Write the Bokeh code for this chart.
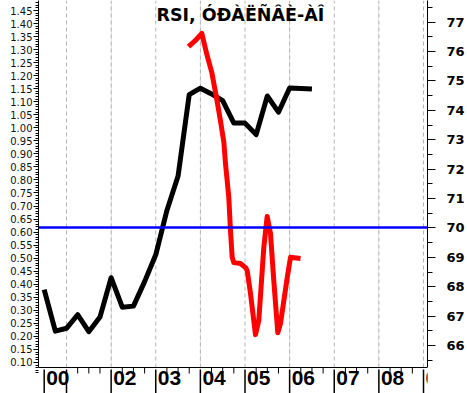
from bokeh.plotting import figure
from bokeh.models import Range1d, LinearAxis, FixedTicker, PrintfTickFormatter
from bokeh.embed import file_html
from bokeh.resources import INLINE
from bokeh.core.properties import value

# ---------------- data ----------------
title_text = "RSI, ÓÐÀËÑÂÈ-ÀÎ"

# black series (left axis), quarterly
black_t = [2000.50, 2000.75, 2001.00, 2001.25, 2001.50, 2001.75, 2002.00, 2002.25,
           2002.50, 2002.75, 2003.00, 2003.25, 2003.50, 2003.75, 2004.00, 2004.25,
           2004.50, 2004.75, 2005.00, 2005.25, 2005.50, 2005.75, 2006.00, 2006.25,
           2006.50]
black_v = [0.379, 0.220, 0.231, 0.283, 0.218, 0.274, 0.425, 0.312,
           0.316, 0.410, 0.513, 0.683, 0.815, 1.127, 1.152, 1.130,
           1.104, 1.018, 1.018, 0.974, 1.122, 1.060, 1.153, 1.151,
           1.149]

# red series (right axis, RSI)
red_t = [2003.734, 2003.884, 2004.032, 2004.144, 2004.256, 2004.368, 2004.444,
         2004.527, 2004.563, 2004.637, 2004.675, 2004.713, 2004.749, 2004.899,
         2005.011, 2005.049, 2005.123, 2005.235, 2005.309, 2005.421, 2005.497,
         2005.571, 2005.645, 2005.735, 2005.796, 2005.946, 2006.020, 2006.244]
red_r = [76.17, 76.37, 76.62, 75.91, 75.29, 74.38, 73.70,
         72.91, 72.19, 71.04, 69.91, 69.00, 68.82, 68.79,
         68.65, 68.55, 67.77, 66.37, 66.85, 69.33, 70.39,
         69.81, 68.21, 66.43, 66.75, 68.31, 69.00, 68.96]

level_r = [70]   # blue reference level

left_ticks = [round(0.10 + 0.05 * i, 2) for i in range(28)]
left_minor = [round(0.06 + 0.01 * i, 2) for i in range(145)]
right_ticks = [66, 67, 68, 69, 70, 71, 72, 73, 74, 75, 76, 77]
right_minor = [65.5 + 0.5 * i for i in range(25)]

grid_years = [2001, 2002, 2003, 2004, 2005, 2006, 2007, 2008, 2009]
sep_years = [2000.5, 2001, 2002, 2003, 2004, 2005, 2006, 2007, 2008, 2009]
label_years = [2000.5, 2002, 2003, 2004, 2005, 2006, 2007, 2008, 2009]
label_text = ["00", "02", "03", "04", "05", "06", "07", "08", "09"]
quarter_ticks = [2001 + 0.25 * i for i in range(33) if i % 4 != 0]

# ---------------- layout ----------------
FW, FH = 389, 393               # frame size (px)
LEFT, RIGHT = 38, 40
K = 260.7                       # px per left-axis unit
V_TOP = 1.45 + 10 / K           # 1.45 sits 10 px below the top
V_BOT = V_TOP - FH / K
V_AXIS = V_TOP - 367 / K        # time-axis line
PX_YEAR = 44.625
X0 = 2001 - 28 / PX_YEAR
X1 = X0 + FW / PX_YEAR

PX_R = 29.39                    # px per RSI unit
Y77 = 21.7                      # px position of 77
def to_r(v):
    ypx = 10 + (1.45 - v) * K
    return 77 - (ypx - Y77) / PX_R

p = figure(frame_width=FW, frame_height=FH, output_backend="svg", toolbar_location=None,
           x_range=Range1d(X0, X1), y_range=Range1d(V_BOT, V_TOP),
           x_axis_location=None, min_border_left=LEFT, min_border_right=RIGHT,
           min_border_top=0, min_border_bottom=0)
p.outline_line_color = None
p.background_fill_color = "white"
p.border_fill_color = "white"
p.ygrid.grid_line_color = None
p.extra_y_ranges = {"rsi": Range1d(to_r(V_BOT), to_r(V_TOP))}

ya = p.yaxis[0]
ya.ticker = FixedTicker(ticks=left_ticks, minor_ticks=left_minor)
ya.formatter = PrintfTickFormatter(format="%.2f")
ya.bounds = (V_AXIS, V_TOP)
ya.major_tick_out = 5
ya.major_tick_in = 0
ya.minor_tick_out = 3
ya.minor_tick_in = 0
ya.major_label_standoff = 1
ya.major_label_text_font = "DejaVu Sans"
ya.major_label_text_font_size = "10px"
ya.major_label_text_color = "#111111"
ya.axis_line_color = "black"

ra = LinearAxis(y_range_name="rsi",
                ticker=FixedTicker(ticks=right_ticks, minor_ticks=right_minor),
                bounds=(to_r(V_AXIS), to_r(V_TOP)))
ra.major_tick_out = 8
ra.major_tick_in = 0
ra.minor_tick_out = 5
ra.minor_tick_in = 0
ra.major_label_standoff = 11
ra.major_label_text_font = "DejaVu Sans"
ra.major_label_text_font_style = "bold"
ra.major_label_text_font_size = "13px"
ra.major_label_text_color = "black"
p.add_layout(ra, "right")

# dashed vertical grid lines
n = len(grid_years)
p.segment(x0=grid_years, y0=[V_AXIS] * n, x1=grid_years, y1=[V_TOP] * n,
          line_color="#b4b4b4", line_width=1, line_dash="4 3")

# bottom time band
p.segment(x0=[X0], y0=[V_AXIS], x1=[X1], y1=[V_AXIS], line_color="black", line_width=1)
nq = len(quarter_ticks)
p.segment(x0=quarter_ticks, y0=[V_AXIS] * nq, x1=quarter_ticks, y1=[V_AXIS - 6 / K] * nq,
          line_color="black", line_width=1)
ns = len(sep_years)
p.segment(x0=sep_years, y0=[V_AXIS - 2 / K] * ns, x1=sep_years, y1=[V_BOT] * ns,
          line_color="black", line_width=1.5)
p.text(x=label_years, y=[V_AXIS - 3 / K] * len(label_years), text=label_text,
       text_align="left", text_baseline="top", x_offset=2,
       text_font=value("Liberation Sans Narrow, Liberation Sans"),
       text_font_size="21px", text_font_style="bold", text_color="black")

# series
p.line(black_t, black_v, line_color="black", line_width=5, line_join="round")
p.line(red_t, red_r, y_range_name="rsi", line_color="#ff0000", line_width=5,
       line_join="round")
p.hspan(y=level_r, y_range_name="rsi", line_color="#0000ff", line_width=2.5)

# title
p.text(x=[2001 + (156 - 66) / PX_YEAR], y=[V_TOP - 4 / K], text=[title_text],
       text_align="left", text_baseline="top", text_font=value("DejaVu Sans"),
       text_font_size="17.5px", text_font_style="bold", text_color="black")

open("out.html", "w").write(file_html(p, INLINE))
